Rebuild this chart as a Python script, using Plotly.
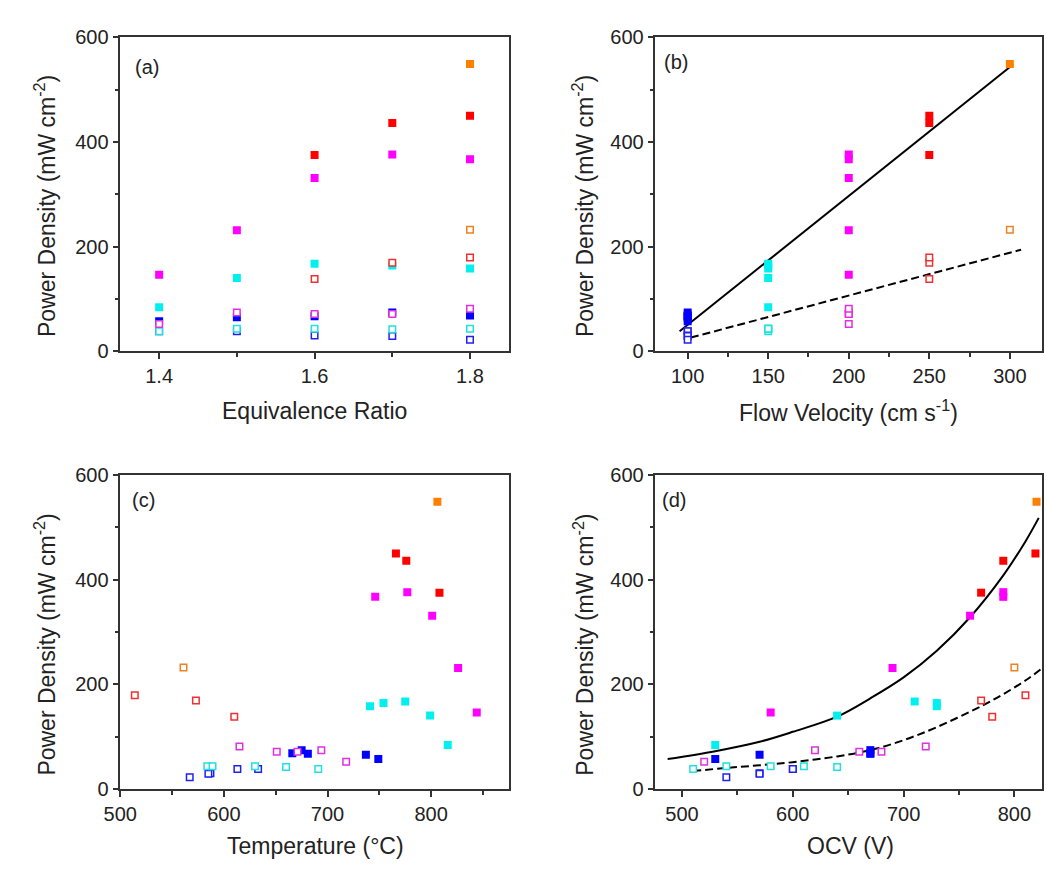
import plotly.graph_objects as go

# ---------------- data ----------------
# each series: equivalence ratio, flow velocity, temperature, OCV, power density
blue_f_er = [1.4, 1.5, 1.6, 1.7, 1.8]
blue_f_vel = [100, 100, 100, 100, 100]
blue_f_temp = [749, 737, 681, 675, 666]
blue_f_ocv = [530, 570, 670, 670, 670]
blue_f_pd = [57, 65, 67, 74, 68]

blue_o_er = [1.4, 1.5, 1.6, 1.7, 1.8]
blue_o_vel = [100, 100, 100, 100, 100]
blue_o_temp = [633, 613, 587, 585, 567]
blue_o_ocv = [600, 600, 570, 570, 540]
blue_o_pd = [38, 38, 30, 29, 22]

cyan_f_er = [1.4, 1.5, 1.6, 1.7, 1.8]
cyan_f_vel = [150, 150, 150, 150, 150]
cyan_f_temp = [816, 799, 775, 754, 741]
cyan_f_ocv = [530, 640, 710, 730, 730]
cyan_f_pd = [84, 140, 167, 164, 158]

cyan_o_er = [1.4, 1.5, 1.6, 1.7, 1.8]
cyan_o_vel = [150, 150, 150, 150, 150]
cyan_o_temp = [691, 584, 630, 660, 589]
cyan_o_ocv = [510, 540, 580, 640, 610]
cyan_o_pd = [38, 43, 43, 42, 43]

mag_f_er = [1.4, 1.5, 1.6, 1.7, 1.8]
mag_f_vel = [200, 200, 200, 200, 200]
mag_f_temp = [844, 826, 801, 777, 746]
mag_f_ocv = [580, 690, 760, 790, 790]
mag_f_pd = [146, 231, 331, 376, 367]

mag_o_er = [1.4, 1.5, 1.6, 1.7, 1.8]
mag_o_vel = [200, 200, 200, 200, 200]
mag_o_temp = [718, 694, 651, 671, 615]
mag_o_ocv = [520, 620, 660, 680, 720]
mag_o_pd = [52, 74, 71, 71, 81]

red_f_er = [1.6, 1.7, 1.8]
red_f_vel = [250, 250, 250]
red_f_temp = [808, 776, 766]
red_f_ocv = [770, 790, 819]
red_f_pd = [375, 436, 450]

red_o_er = [1.6, 1.7, 1.8]
red_o_vel = [250, 250, 250]
red_o_temp = [610, 573, 514]
red_o_ocv = [780, 770, 810]
red_o_pd = [138, 169, 179]

orange_f_er = [1.8]
orange_f_vel = [300]
orange_f_temp = [806]
orange_f_ocv = [820]
orange_f_pd = [549]

orange_o_er = [1.8]
orange_o_vel = [300]
orange_o_temp = [561]
orange_o_ocv = [800]
orange_o_pd = [232]

# fitted lines
fit_b_solid_x = [95, 302]
fit_b_solid_y = [38, 548]
fit_b_dash_x = [102, 307]
fit_b_dash_y = [26, 194]

# fitted curves
fit_d_solid_x = [487, 530, 570, 600, 640, 670, 700, 730, 760, 790, 810, 822]
fit_d_solid_y = [57, 72, 90, 109, 138, 173, 213, 264, 328, 408, 473, 518]
fit_d_dash_x = [510, 540, 570, 600, 640, 670, 700, 730, 770, 790, 812, 824]
fit_d_dash_y = [34, 40, 45, 51, 62, 74, 93, 118, 158, 181, 210, 229]

# ---------------- styling ----------------
W, H = 1046, 871
FONT = "Arial, Liberation Sans, sans-serif"
TXT = "#222222"
AX = "#333333"

series = [
    ("blue_f", dict(er=blue_f_er, vel=blue_f_vel, temp=blue_f_temp, ocv=blue_f_ocv, pd=blue_f_pd), "#0000FF", True),
    ("cyan_f", dict(er=cyan_f_er, vel=cyan_f_vel, temp=cyan_f_temp, ocv=cyan_f_ocv, pd=cyan_f_pd), "#00F0F0", True),
    ("mag_f", dict(er=mag_f_er, vel=mag_f_vel, temp=mag_f_temp, ocv=mag_f_ocv, pd=mag_f_pd), "#FF00FF", True),
    ("red_f", dict(er=red_f_er, vel=red_f_vel, temp=red_f_temp, ocv=red_f_ocv, pd=red_f_pd), "#FF0000", True),
    ("orange_f", dict(er=orange_f_er, vel=orange_f_vel, temp=orange_f_temp, ocv=orange_f_ocv, pd=orange_f_pd), "#FF8000", True),
    ("blue_o", dict(er=blue_o_er, vel=blue_o_vel, temp=blue_o_temp, ocv=blue_o_ocv, pd=blue_o_pd), "#2020F0", False),
    ("cyan_o", dict(er=cyan_o_er, vel=cyan_o_vel, temp=cyan_o_temp, ocv=cyan_o_ocv, pd=cyan_o_pd), "#20E0E0", False),
    ("mag_o", dict(er=mag_o_er, vel=mag_o_vel, temp=mag_o_temp, ocv=mag_o_ocv, pd=mag_o_pd), "#E030E0", False),
    ("red_o", dict(er=red_o_er, vel=red_o_vel, temp=red_o_temp, ocv=red_o_ocv, pd=red_o_pd), "#F03030", False),
    ("orange_o", dict(er=orange_o_er, vel=orange_o_vel, temp=orange_o_temp, ocv=orange_o_ocv, pd=orange_o_pd), "#F08020", False),
]

panels = [("x", "y", "er"), ("x2", "y2", "vel"), ("x3", "y3", "temp"), ("x4", "y4", "ocv")]

fig = go.Figure()

fig.add_trace(go.Scatter(x=fit_b_solid_x, y=fit_b_solid_y, mode="lines", xaxis="x2", yaxis="y2",
                         line=dict(color="black", width=2), showlegend=False, hoverinfo="skip"))
fig.add_trace(go.Scatter(x=fit_b_dash_x, y=fit_b_dash_y, mode="lines", xaxis="x2", yaxis="y2",
                         line=dict(color="black", width=2, dash="8px,4px"), showlegend=False, hoverinfo="skip"))
fig.add_trace(go.Scatter(x=fit_d_solid_x, y=fit_d_solid_y, mode="lines", xaxis="x4", yaxis="y4",
                         line=dict(color="black", width=2, shape="spline"), showlegend=False, hoverinfo="skip"))
fig.add_trace(go.Scatter(x=fit_d_dash_x, y=fit_d_dash_y, mode="lines", xaxis="x4", yaxis="y4",
                         line=dict(color="black", width=2, shape="spline", dash="8px,4px"), showlegend=False, hoverinfo="skip"))

for xa, ya, key in panels:
    for name, d, col, filled in series:
        if filled:
            marker = dict(symbol="square", size=8, color=col, line=dict(width=0))
        else:
            marker = dict(symbol="square", size=6.5, color="white", line=dict(color=col, width=1.5))
        fig.add_trace(go.Scatter(x=d[key], y=d["pd"], mode="markers", xaxis=xa, yaxis=ya,
                                 marker=marker, showlegend=False, name=name))


def px_x(p):
    return p / W


def px_y(p):
    return 1 - p / H


xl = [px_x(105), px_x(500)]
xr = [px_x(649), px_x(1042)]
yt = [px_y(349), px_y(27)]
yb = [px_y(798), px_y(476)]

common = dict(showline=True, linecolor=AX, linewidth=1.5, mirror=True, ticks="outside", ticklen=6,
              tickwidth=1.5, tickcolor=AX, showgrid=False, zeroline=False,
              tickfont=dict(family=FONT, size=20, color=TXT))


def minor(dt):
    return dict(dtick=dt, ticks="outside", ticklen=4, tickwidth=1.5, tickcolor=AX, showgrid=False)


yaxis_common = dict(common, range=[0, 600], dtick=200, tick0=0, minor=minor(100))

fig.update_layout(
    width=W, height=H, margin=dict(l=0, r=0, t=0, b=0),
    paper_bgcolor="white", plot_bgcolor="white", showlegend=False,
    xaxis=dict(common, domain=xl, anchor="y", range=[1.35, 1.85], dtick=0.2, tick0=1.4, minor=minor(0.1)),
    yaxis=dict(yaxis_common, domain=yt, anchor="x"),
    xaxis2=dict(common, domain=xr, anchor="y2", range=[80, 320], dtick=50, tick0=100, minor=minor(25)),
    yaxis2=dict(yaxis_common, domain=yt, anchor="x2"),
    xaxis3=dict(common, domain=xl, anchor="y3", range=[500, 875], dtick=100, tick0=500, minor=minor(50)),
    yaxis3=dict(yaxis_common, domain=yb, anchor="x3"),
    xaxis4=dict(common, domain=xr, anchor="y4", range=[476, 825], dtick=100, tick0=500, minor=minor(50)),
    yaxis4=dict(yaxis_common, domain=yb, anchor="x4"),
)

ann = []


def add_text(text, x, y, size, angle=0):
    ann.append(dict(text=text, x=px_x(x), y=px_y(y), xref="paper", yref="paper", showarrow=False,
                    xanchor="center", yanchor="middle", textangle=angle,
                    font=dict(family=FONT, size=size, color=TXT)))


ytitle = "Power Density (mW cm<sup>-2</sup>)"
add_text(ytitle, 28.5, 200, 23, -90)
add_text(ytitle, 575.5, 200, 23, -90)
add_text(ytitle, 28.5, 650, 23, -90)
add_text(ytitle, 575.5, 650, 23, -90)

add_text("Equivalence Ratio", 302, 410, 23)
add_text("Flow Velocity (cm s<sup>-1</sup>)", 845, 410, 23)
add_text("Temperature (°C)", 303, 857, 23)
add_text("OCV (V)", 847, 857, 23)

add_text("(a)", 132, 57, 20)
add_text("(b)", 670, 52, 20)
add_text("(c)", 129, 502, 20)
add_text("(d)", 668, 502, 20)

fig.update_layout(annotations=ann)

fig.write_html("out.html", config={"displayModeBar": False},
               post_script="document.body.style.margin='0';")
